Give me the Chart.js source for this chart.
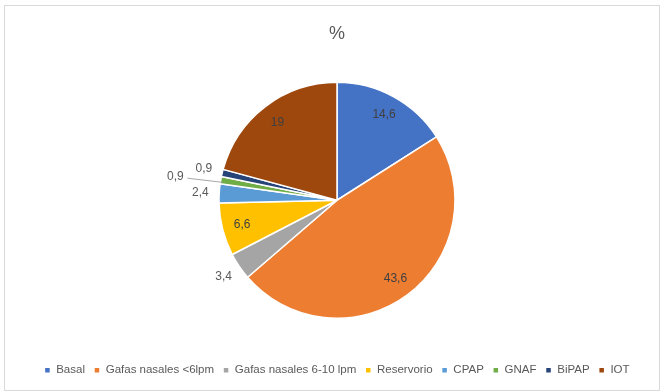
<!DOCTYPE html>
<html>
<head>
<meta charset="utf-8">
<script src="https://cdn.jsdelivr.net/npm/chart.js@4/dist/chart.umd.min.js"></script>
<style>
  body { margin: 0; background: #fff; }
  #wrap { position: relative; width: 664px; height: 392px; }
  #frame { position: absolute; left: 4px; top: 5px; width: 654px; height: 384px; border: 1px solid #d9d9d9; pointer-events: none; }
  canvas { position: absolute; left: 0; top: 0; }
</style>
</head>
<body>
<div id="wrap">
  <canvas id="pie" width="664" height="392"></canvas>
  <div id="frame"></div>
</div>
<script>
// soporte respiratorio (%)
const categorias = ['Basal', 'Gafas nasales <6lpm', 'Gafas nasales 6-10 lpm', 'Reservorio', 'CPAP', 'GNAF', 'BiPAP', 'IOT'];
const porcentajes = [14.6, 43.6, 3.4, 6.6, 2.4, 0.9, 0.9, 19];
const colores = ['#4472C4', '#ED7D31', '#A5A5A5', '#FFC000', '#5B9BD5', '#70AD47', '#264478', '#9E480E'];

// where each value label sits: inside the slice, outside it, or outside with a leader line
const colocacion = ['in', 'in', 'out', 'in', 'out', 'line', 'out', 'in'];

const etiquetas = {
  id: 'etiquetas',
  afterDatasetsDraw(chart) {
    const ctx = chart.ctx;
    const meta = chart.getDatasetMeta(0);
    ctx.save();
    ctx.font = '12px "Liberation Sans", Arial, sans-serif';
    ctx.textAlign = 'center';
    ctx.textBaseline = 'middle';
    meta.data.forEach((arc, i) => {
      const p = arc.getProps(['x', 'y', 'startAngle', 'endAngle', 'outerRadius']);
      const mid = (p.startAngle + p.endAngle) / 2;
      const dx = Math.cos(mid), dy = Math.sin(mid);
      const txt = String(porcentajes[i]).replace('.', ',');
      let f = 0.83;
      if (colocacion[i] === 'out') f = 1.16;
      if (colocacion[i] === 'line') f = 1.39;
      const tx = p.x + dx * p.outerRadius * f;
      const ty = p.y + dy * p.outerRadius * f + (colocacion[i] === 'line' ? 4 : 0);
      if (colocacion[i] === 'line') {
        ctx.strokeStyle = '#a6a6a6';
        ctx.lineWidth = 1;
        ctx.beginPath();
        ctx.moveTo(tx + 12, ty + 2);
        ctx.lineTo(p.x + dx * p.outerRadius * 0.99, p.y + dy * p.outerRadius * 0.99 + 2);
        ctx.stroke();
      }
      ctx.fillStyle = colocacion[i] === 'in' ? '#404040' : '#595959';
      ctx.fillText(txt, tx, ty);
    });
    ctx.restore();
  }
};

new Chart(document.getElementById('pie'), {
  type: 'pie',
  data: {
    labels: categorias,
    datasets: [{
      data: porcentajes,
      backgroundColor: colores,
      borderColor: '#ffffff',
      borderWidth: 1.5,
      radius: 118
    }]
  },
  options: {
    responsive: false,
    animation: false,
    layout: { padding: { left: 10, right: 0, top: 0, bottom: 6 } },
    plugins: {
      title: {
        display: true,
        text: '%',
        color: '#595959',
        font: { family: '"Liberation Sans", Arial, sans-serif', size: 18, weight: 'normal' },
        padding: { top: 23, bottom: 0.4 }
      },
      legend: {
        position: 'bottom',
        labels: {
          boxWidth: 6,
          boxHeight: 6,
          padding: 9,
          color: '#595959',
          font: { family: '"Liberation Sans", Arial, sans-serif', size: 11.5 }
        }
      },
      tooltip: { enabled: false }
    }
  },
  plugins: [etiquetas]
});
</script>
</body>
</html>
